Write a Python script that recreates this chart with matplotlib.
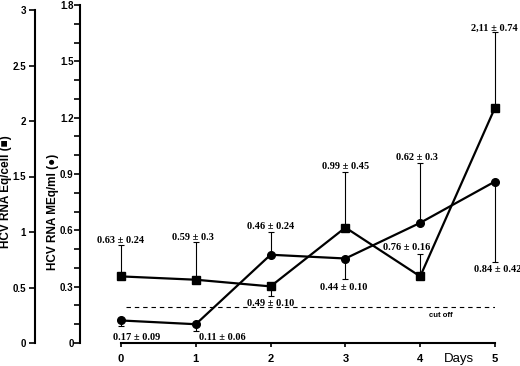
import numpy as np
import matplotlib
matplotlib.use('Agg')
import matplotlib.pyplot as plt
from matplotlib.ticker import MultipleLocator

plt.rcParams.update({'font.size': 7, 'font.weight': 'bold'})

days = [0, 1, 2, 3, 4, 5]

# HCV RNA Eq/cell (squares), outer axis
cell_vals = [0.60, 0.57, 0.51, 1.04, 0.60, 2.12]
cell_err_lo = [0, 0, 0.09, 0, 0, 0]
cell_err_hi = [0.28, 0.34, 0, 0.50, 0.20, 0.68]

# HCV RNA MEq/ml (circles), inner axis
ml_vals = [0.12, 0.10, 0.47, 0.45, 0.64, 0.86]
ml_err_lo = [0.03, 0.035, 0, 0.11, 0, 0.43]
ml_err_hi = [0, 0, 0.12, 0, 0.32, 0]

cutoff = 0.19

labels = ['0.63 ± 0.24', '0.59 ± 0.3', '0.46 ± 0.24', '0.49 ± 0.10',
          '0.17 ± 0.09', '0.11 ± 0.06', '0.99 ± 0.45', '0.62 ± 0.3',
          '2,11 ± 0.74', '0.44 ± 0.10', '0.76 ± 0.16', '0.84 ± 0.42']
label_pos = [(0.0, 0.548), (0.96, 0.564), (2.0, 0.618), (2.0, 0.213),
             (0.21, 0.027), (1.36, 0.027), (3.0, 0.942), (3.96, 0.99),
             (4.99, 1.677), (2.98, 0.298), (3.82, 0.506), (5.03, 0.389)]

fig = plt.figure(figsize=(5.2, 3.66), dpi=100)
ax = fig.add_axes([80/520, 23/366, 415/520, 338/366])
ax.set_xlim(-0.548, 5)
ax.set_ylim(0, 1.8)
for s in ['top', 'right']:
    ax.spines[s].set_visible(False)
ax.spines['bottom'].set_bounds(0, 5)
ax.spines['bottom'].set_linewidth(1.5)
ax.spines['left'].set_linewidth(1.5)
ax.set_xticks(days)
ax.yaxis.set_major_locator(MultipleLocator(0.3))
ax.yaxis.set_minor_locator(MultipleLocator(0.1))
ax.yaxis.set_major_formatter(plt.FuncFormatter(lambda v, p: f'{v:g}'))
ax.tick_params(axis='y', which='both', direction='out', length=4, width=1.2, labelsize=7, pad=0.5)
ax.tick_params(axis='x', direction='out', length=3, width=1.2, labelsize=8, pad=5)

ax2 = ax.twinx()
ax2.set_ylim(0, 3 * 338 / 333)
for s in ['top', 'right', 'bottom']:
    ax2.spines[s].set_visible(False)
ax2.spines['left'].set_visible(True)
ax2.spines['left'].set_position(('outward', 32.4))
ax2.spines['left'].set_bounds(0, 3)
ax2.spines['left'].set_linewidth(1.5)
ax2.yaxis.tick_left()
ax2.set_yticks([0, 0.5, 1, 1.5, 2, 2.5, 3])
ax2.yaxis.set_major_formatter(plt.FuncFormatter(lambda v, p: f'{v:g}'))
ax2.tick_params(axis='y', direction='out', length=4, width=1.2, labelsize=7, pad=2.5)

# circles
ax.errorbar(days, ml_vals, yerr=[ml_err_lo, ml_err_hi], fmt='none',
            ecolor='black', elinewidth=0.8, capsize=2.5, capthick=0.8, clip_on=False)
ax.plot(days, ml_vals, color='black', lw=1.6, marker='o', ms=5.5, zorder=5, clip_on=False)

# squares
ax2.errorbar(days, cell_vals, yerr=[cell_err_lo, cell_err_hi], fmt='none',
             ecolor='black', elinewidth=0.8, capsize=2.5, capthick=0.8, clip_on=False)
ax2.plot(days, cell_vals, color='black', lw=1.6, marker='s', ms=5.5, zorder=5, clip_on=False)

ax.hlines(cutoff, 0.07, 5, colors='black', lw=0.8, linestyles=(0, (4, 3.5)))
ax.text(4.28, 0.149, 'cut off', ha='center', va='center', fontsize=5.5,
        family='Liberation Sans')

for t, (x, y) in zip(labels, label_pos):
    ax.text(x, y, t, ha='center', va='center', fontsize=7.5,
            family='Liberation Serif', fontweight='bold', zorder=6)

fig.text(444/520, 1 - 359/366, 'Days', ha='left', va='center', fontsize=9.5,
         family='Liberation Sans', fontweight='normal')
fig.text(6/520, 1 - 192/366, 'HCV RNA Eq/cell (■)', rotation=90, ha='center',
         va='center', fontsize=8.5, family=['Liberation Sans', 'DejaVu Sans'])
fig.text(53/520, 1 - 212/366, 'HCV RNA MEq/ml (●)', rotation=90, ha='center',
         va='center', fontsize=8.5, family=['Liberation Sans', 'DejaVu Sans'])

for lab in ax.get_xticklabels() + ax.get_yticklabels() + ax2.get_yticklabels():
    lab.set_family('Liberation Sans')
    lab.set_fontweight('bold')

fig.savefig('out.png', dpi=100)
